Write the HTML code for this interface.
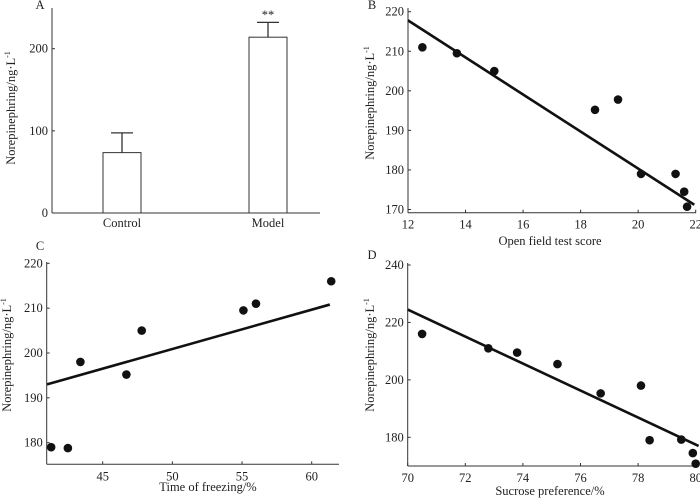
<!DOCTYPE html>
<html><head><meta charset="utf-8">
<style>
body{margin:0;background:#fff;}
svg{display:block;font-family:"Liberation Serif",serif;}
text{fill:#222;font-size:12.5px;}
</style></head>
<body>
<svg id="chart" width="700" height="500" viewBox="0 0 700 500"></svg>
<script>
// Panel A data
const aCategories = ["Control","Model"];
const aValues = [73.5, 214];
const aErrors = [97.5, 232];
// Panel B
const bX = [12.5,13.7,15,18.5,19.3,20.1,21.3,21.6,21.7];
const bY = [211,209.5,205,195.2,197.8,179,179,174.5,170.7];
const bFitX = [12,21.95]; const bFitY = [217.8,171.2];
const bXTicks = [12,14,16,18,20,22]; const bYTicks = [170,180,190,200,210,220];
// Panel C
const cX = [41.3,42.5,43.4,46.7,47.8,55.1,56,61.4];
const cY = [179,178.8,198,195.2,205,209.5,211,216];
const cFitX = [41,61.3]; const cFitY = [193,210.8];
const cXTicks = [45,50,55,60]; const cYTicks = [180,190,200,210,220];
// Panel D
const dX = [70.5,72.8,73.8,75.2,76.7,78.1,78.4,79.5,79.9,80];
const dY = [216,211,209.5,205.5,195.3,198,179,179.2,174.5,170.8];
const dFitX = [70,80.1]; const dFitY = [224.5,177];
const dXTicks = [70,72,74,76,78,80]; const dYTicks = [180,200,220,240];
const aYTicks = [0,100,200];

const NS="http://www.w3.org/2000/svg";
const svg=document.getElementById('chart');
function el(tag,attrs,parent,txt){const e=document.createElementNS(NS,tag);for(const k in attrs)e.setAttribute(k,attrs[k]);if(txt!==undefined)e.textContent=txt;(parent||svg).appendChild(e);return e;}
function lin(d0,d1,r0,r1){return v=>r0+(v-d0)*(r1-r0)/(d1-d0);}

function axes(g,x0,x1,y0,y1){
  const a=el('line',{x1:x0,y1:y0,x2:x0,y2:y1,stroke:'#333','stroke-width':1},g);
  
  const b=el('line',{x1:x0,y1:y0,x2:x1,y2:y0,stroke:'#333','stroke-width':1},g);
  
}
function yTicks(g,ticks,ys,x0){ticks.forEach(t=>{el('line',{x1:x0,x2:x0+3,y1:ys(t),y2:ys(t),stroke:'#333'},g);const tx=el('text',{x:x0-4,y:ys(t)+4,'text-anchor':'end'},g,t);});}
function xTicks(g,ticks,xs,y0){ticks.forEach(t=>{el('line',{x1:xs(t),x2:xs(t),y1:y0,y2:y0-3,stroke:'#333'},g);const tx=el('text',{x:xs(t),y:y0+16,'text-anchor':'middle'},g,t);});}
function ylabel(g,x,y){const t=el('text',{x:x,y:y,'text-anchor':'middle',transform:`rotate(-90 ${x} ${y})`},g);t.appendChild(document.createTextNode('Norepinephring/ng·L'));el('tspan',{dy:-5,'font-size':'8px'},t,'-1');}
function label(g,x,y,s,name,anchor){const t=el('text',{x:x,y:y,'text-anchor':anchor||'middle'},g,s);}

// Panel A
{const g=el('g',{});
 const ys=lin(0,200,213,48.7);
 axes(g,52,320,213,8);yTicks(g,aYTicks,ys,52);
 const cx=[122,268];
 aCategories.forEach((c,i)=>{
  const r=el('rect',{x:cx[i]-19,y:ys(aValues[i]),width:38,height:213-ys(aValues[i]),fill:'#fff',stroke:'#333','stroke-width':1},g);
  
  el('line',{x1:cx[i],x2:cx[i],y1:ys(aValues[i]),y2:ys(aErrors[i]),stroke:'#333','stroke-width':1.3},g);
  el('line',{x1:cx[i]-11,x2:cx[i]+11,y1:ys(aErrors[i]),y2:ys(aErrors[i]),stroke:'#333','stroke-width':1.3},g);
  label(g,cx[i],227,c,'x-category-label');
 });
 label(g,cx[1],19,'**','significance-marker');
 label(g,40,9,'A','panel-label-a');
 ylabel(g,15,108);}

// box = [axisLeft, axisRight, axisBottom, axisTop]
function scatter(id,xa,ya,fx,fy,xt,yt,xr,yr,px,py,box,xl,xlPos,letter,lp,ylPos){
 const g=el('g',{});
 const xs=lin(xr[0],xr[1],px[0],px[1]),ys=lin(yr[0],yr[1],py[0],py[1]);
 axes(g,box[0],box[1],box[2],box[3]);yTicks(g,yt,ys,box[0]);xTicks(g,xt,xs,box[2]);
 const l=el('line',{x1:xs(fx[0]),y1:ys(fy[0]),x2:xs(fx[1]),y2:ys(fy[1]),stroke:'#111','stroke-width':2.6},g);
 
 xa.forEach((v,i)=>{const c=el('circle',{cx:xs(v),cy:ys(ya[i]),r:4.3,fill:'#111'},g);});
 label(g,xlPos[0],xlPos[1],xl,'x-axis-title');
 label(g,lp[0],lp[1],letter,'panel-label-'+id);
 ylabel(g,ylPos[0],ylPos[1]);
}
scatter('b',bX,bY,bFitX,bFitY,bXTicks,bYTicks,[12,22],[220,170],[408,695.7],[11.7,209.5],[408,696,212.7,8],'Open field test score',[550,245],'B',[372,9],[374,103]);
scatter('c',cX,cY,cFitX,cFitY,cXTicks,cYTicks,[45,60],[220,180],[102.7,311.7],[263.3,442.7],[46.7,339,464.3,262],'Time of freezing/%',[208,491],'C',[40,250],[11,355]);
scatter('d',dX,dY,dFitX,dFitY,dXTicks,dYTicks,[70,80],[240,180],[407.7,695.7],[265,437.3],[407.7,696,466,263],'Sucrose preference/%',[550,495],'D',[372,259],[374,355]);
</script>
</body></html>
